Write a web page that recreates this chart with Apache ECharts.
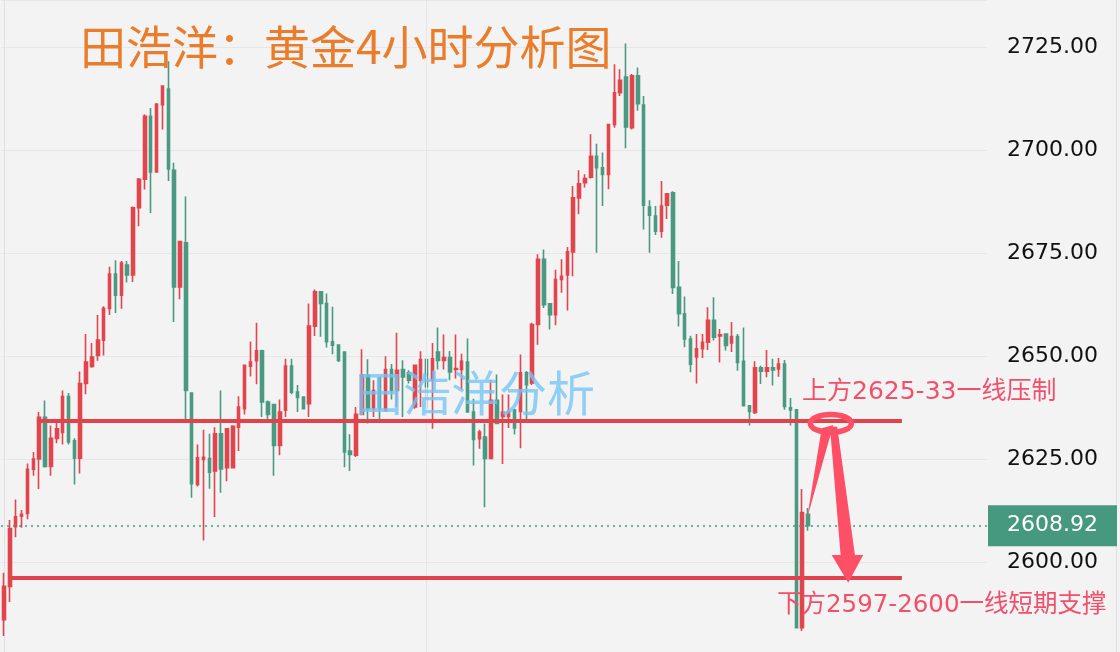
<!DOCTYPE html>
<html><head><meta charset="utf-8">
<script src="https://cdn.jsdelivr.net/npm/echarts/dist/echarts.min.js"></script>
<style>html,body{margin:0;padding:0;background:#f3f3f3;}#c{width:1120px;height:652px;}</style>
</head><body><div id="c"></div>
<script>
// ---- data ----
const slotCount = 168;
const categories = Array.from({length: slotCount}, (_, i) => String(i));
const openV = [2586.1,2594.2,2608.7,2611.2,2611.9,2622.6,2625.1,2635.2,2623.3,2630.1,2631.5,2640.2,2629.5,2625.3,2643.4,2647.5,2650.2,2653.9,2661.6,2669.9,
2664.8,2672.1,2669.7,2686.0,2692.9,2708.2,2694.7,2711.0,2714.8,2695.1,2666.8,2677.5,2641.1,2618.9,2625.0,2625.2,2622.2,2631.2,2623.0,2623.0,
2632.8,2637.3,2647.6,2648.9,2651.3,2638.9,2638.3,2628.4,2636.9,2647.6,2641.3,2640.1,2638.5,2657.3,2665.6,2662.8,2653.5,2652.7,2651.0,2627.0,
2626.0,2635.9,2645.4,2637.3,2644.8,2636.9,2646.8,2641.7,2646.8,2646.0,2637.7,2644.2,2649.2,2644.2,2651.0,2649.0,2649.7,2646.8,2646.8,2648.6,
2636.5,2630.0,2630.4,2625.2,2639.3,2635.4,2635.4,2637.0,2636.6,2646.0,2643.5,2657.7,2673.5,2662.7,2660.1,2668.6,2669.7,2675.3,2688.4,2692.1,
2693.4,2698.5,2695.7,2694.1,2706.2,2713.9,2717.7,2705.4,2718.0,2710.9,2686.2,2684.0,2680.3,2686.6,2689.6,2666.7,2660.3,2654.2,2649.8,2651.8,
2653.4,2658.7,2654.9,2655.4,2653.2,2654.8,2648.8,2638.0,2636.4,2647.2,2646.4,2647.2,2646.9,2648.1,2637.5,2637.0,2584.2,2611.7];
const closeV = [2594.2,2608.2,2611.1,2611.7,2622.6,2625.1,2635.2,2623.3,2630.1,2632.4,2640.2,2629.2,2625.3,2643.4,2648.6,2649.8,2653.9,2661.6,2669.9,2664.8,
2672.6,2669.7,2686.0,2692.9,2708.2,2694.7,2711.1,2715.5,2695.4,2666.8,2677.8,2641.7,2619.1,2625.4,2625.5,2621.9,2631.2,2622.7,2632.4,2633.0,
2637.7,2647.8,2648.6,2651.3,2638.9,2635.9,2628.4,2636.5,2647.6,2641.3,2640.0,2637.3,2657.3,2665.6,2662.8,2653.5,2652.7,2649.0,2626.8,2626.2,
2635.9,2645.5,2637.3,2641.7,2637.3,2646.8,2641.7,2646.6,2645.0,2644.2,2647.8,2649.2,2642.6,2649.4,2649.0,2649.7,2646.2,2647.0,2648.8,2636.5,
2629.8,2631.6,2625.2,2639.3,2633.7,2636.4,2636.6,2632.6,2646.0,2643.1,2657.7,2673.5,2662.5,2660.1,2668.6,2669.4,2675.3,2688.4,2691.8,2693.1,
2698.5,2695.7,2694.1,2706.2,2713.9,2716.9,2705.6,2718.0,2711.2,2686.6,2684.2,2680.3,2686.4,2689.4,2666.7,2660.3,2654.2,2648.1,2651.8,2653.4,
2658.7,2654.6,2655.2,2652.6,2654.8,2648.5,2638.0,2636.6,2647.2,2646.4,2647.2,2646.7,2648.1,2637.8,2637.0,2584.2,2612.1,2608.92];
const lowV = [2582.2,2590.4,2606.1,2608.4,2610.5,2621.0,2617.8,2623.0,2621.0,2628.9,2628.6,2628.6,2618.9,2621.6,2640.8,2647.2,2648.9,2650.2,2660.0,2660.5,
2661.5,2667.9,2668.0,2681.5,2690.4,2684.7,2694.5,2705.0,2692.5,2658.3,2663.8,2633.8,2615.7,2618.4,2605.3,2617.9,2611.0,2616.9,2619.7,2622.8,
2627.0,2635.9,2645.1,2643.2,2635.3,2633.8,2621.0,2626.0,2635.3,2640.8,2636.5,2637.1,2635.3,2654.9,2654.7,2652.1,2650.5,2648.6,2623.1,2622.2,
2625.6,2635.7,2633.7,2635.3,2634.1,2636.5,2639.5,2637.7,2635.3,2643.4,2637.3,2637.7,2637.3,2632.4,2646.8,2646.8,2644.2,2644.6,2641.9,2636.5,
2623.5,2627.6,2613.4,2625.2,2633.7,2623.9,2632.6,2631.0,2627.7,2634.6,2643.0,2652.8,2661.7,2656.5,2657.5,2665.4,2661.1,2669.4,2684.4,2690.9,
2693.1,2675.1,2686.4,2690.5,2705.4,2713.1,2700.4,2705.0,2709.5,2680.7,2675.1,2679.4,2678.7,2683.3,2665.1,2657.2,2652.2,2646.1,2643.4,2649.6,
2651.5,2653.8,2648.5,2651.4,2651.0,2646.5,2638.0,2633.2,2636.0,2643.3,2644.9,2642.9,2645.0,2637.0,2633.2,2584.1,2583.4,2607.7];
const highV = [2597.5,2610.3,2615.3,2612.7,2624.0,2626.8,2636.5,2639.3,2633.2,2634.4,2641.7,2641.1,2630.1,2646.3,2655.4,2653.2,2660.0,2662.1,2671.7,2673.3,
2673.1,2673.1,2686.3,2693.2,2708.7,2710.2,2711.4,2715.7,2721.5,2696.9,2677.8,2688.7,2641.1,2628.6,2632.2,2631.2,2632.8,2641.7,2632.4,2633.3,
2640.3,2647.8,2653.6,2658.1,2651.6,2639.3,2638.3,2639.5,2649.4,2649.4,2643.0,2640.1,2662.8,2666.2,2665.6,2665.2,2662.0,2652.7,2651.2,2631.1,
2637.7,2651.7,2649.3,2644.2,2645.0,2650.0,2648.1,2655.7,2649.0,2646.6,2647.8,2651.2,2649.2,2653.2,2657.0,2655.3,2651.3,2655.3,2650.6,2654.3,
2639.7,2632.2,2633.7,2644.3,2645.6,2640.7,2640.7,2637.0,2650.4,2646.4,2658.1,2674.7,2675.9,2662.7,2671.0,2673.5,2676.5,2691.3,2695.1,2694.1,
2703.8,2701.5,2699.4,2706.2,2720.8,2719.6,2725.8,2718.4,2720.0,2713.1,2687.8,2686.4,2692.5,2689.6,2690.0,2673.1,2664.5,2655.0,2655.4,2655.4,
2661.9,2664.3,2656.6,2655.4,2658.3,2655.4,2657.0,2638.0,2648.8,2647.7,2651.5,2649.4,2649.6,2649.1,2639.9,2637.0,2617.8,2613.2];
const lastPrice = 2608.92;
const resistanceLevel = 2634.3;
const supportLevel = 2596.3;
const resistanceSpan = [6, 153];
const supportSpan = [1, 153];
const timeDividerIndex = 72;
// annotation shapes (category index, price)
const upWedge = [[136.82, 2610.55], [139.33, 2632.53], [141.30, 2633.33]];
const downShaft = [[140.74, 2632.92], [141.98, 2632.92], [145.00, 2601.82], [142.56, 2601.82]];
const downHead = [[141.03, 2601.82], [146.41, 2601.82], [143.86, 2595.10]];
const ringCenter = [140.9, 2633.7];
const titleText = '田浩洋：黄金4小时分析图';
const watermarkText = '田浩洋分析';
const noteUpper = '上方2625-33一线压制';
const noteLower = '下方2597-2600一线短期支撑';

const RED = '#e1454d', GREEN = '#4a9a82', ANNO = '#fd4f66';
const candles = openV.map((o, i) => [o, closeV[i], lowV[i], highV[i]]);
const cjk = '"DejaVu Sans", "Noto Sans CJK SC", sans-serif';

const chart = echarts.init(document.getElementById('c'), null, {renderer: 'canvas'});
chart.setOption({
  backgroundColor: '#f3f3f3',
  animation: false,
  grid: {left: 1, right: 133, top: 0, bottom: -13.6, outerBoundsMode: 'none', containLabel: false},
  xAxis: [{
    type: 'category', data: categories, boundaryGap: true,
    axisLine: {show: false}, axisTick: {show: false}, axisLabel: {show: false}, splitLine: {show: false}
  }, {
    type: 'value', min: -0.5, max: slotCount - 0.5, show: false
  }],
  yAxis: {
    type: 'value', position: 'right', min: 2575, max: 2736.37, interval: 25,
    axisLine: {show: true, lineStyle: {color: '#dde0e6', width: 1}},
    axisTick: {show: false},
    axisLabel: {show: true, margin: 20, color: '#111111', fontSize: 22, fontFamily: 'DejaVu Sans',
      showMinLabel: false, showMaxLabel: false, formatter: v => v.toFixed(2)},
    splitLine: {show: true, lineStyle: {color: '#e6e7eb', width: 1}}
  },
  series: [{
    type: 'candlestick',
    data: candles,
    barWidth: 3,
    itemStyle: {color: RED, color0: GREEN, borderColor: RED, borderColor0: GREEN, borderWidth: 1.6},
    markLine: {
      symbol: ['none', 'none'], silent: true, animation: false,
      data: [
        {xAxis: timeDividerIndex, lineStyle: {color: '#e4e6eb', width: 1, type: 'solid'}, label: {show: false}},
        [{coord: [resistanceSpan[0], resistanceLevel]}, {coord: [resistanceSpan[1], resistanceLevel]}],
        [{coord: [supportSpan[0], supportLevel]}, {coord: [supportSpan[1], supportLevel]}],
        {yAxis: lastPrice, lineStyle: {type: [2, 4], color: '#3f9a80', width: 1.6},
          label: {show: true, position: 'end', distance: 1, formatter: () => lastPrice.toFixed(2),
            color: '#ffffff', fontSize: 22, fontFamily: 'DejaVu Sans', backgroundColor: '#46987f',
            lineHeight: 25, padding: [8, 19, 8, 19]}}
      ],
      lineStyle: {color: '#e0434c', width: 4, type: 'solid'},
      label: {show: false}
    }
  }, {
    type: 'custom',
    xAxisIndex: 1,
    silent: true,
    z: 10,
    data: [[0, 0]],
    renderItem: function (params, api) {
      const pts = arr => arr.map(p => api.coord(p));
      const c = api.coord(ringCenter);
      return {
        type: 'group',
        children: [
          {type: 'polygon', shape: {points: pts(upWedge)}, style: {fill: ANNO}},
          {type: 'polygon', shape: {points: pts(downShaft)}, style: {fill: ANNO}},
          {type: 'polygon', shape: {points: pts(downHead)}, style: {fill: ANNO}},
          {type: 'ellipse', shape: {cx: c[0], cy: c[1], rx: 20.5, ry: 9}, style: {fill: 'none', stroke: ANNO, lineWidth: 5.5}}
        ]
      };
    }
  }],
  graphic: [
    {type: 'text', left: 80, top: 24, silent: true, z: 20,
      style: {text: titleText, fill: '#ea7d2c', font: 'normal 46px "Noto Sans CJK SC"'}},
    {type: 'text', left: 355, top: 369, silent: true, z: 20,
      style: {text: watermarkText, fill: 'rgba(118,196,245,0.8)', font: 'normal 48px "Noto Sans CJK SC"'}},
    {type: 'text', left: 802, top: 379.5, silent: true, z: 20,
      style: {text: noteUpper, fill: '#f2506a', font: 'normal 25px ' + cjk}},
    {type: 'text', left: 777, top: 593, silent: true, z: 20,
      style: {text: noteLower, fill: '#f2506a', font: 'normal 24.5px ' + cjk}},
    {type: 'rect', left: 1116, top: 0, silent: true, shape: {width: 1, height: 652}, style: {fill: '#dde0e6'}}
  ]
});
</script>
</body></html>
